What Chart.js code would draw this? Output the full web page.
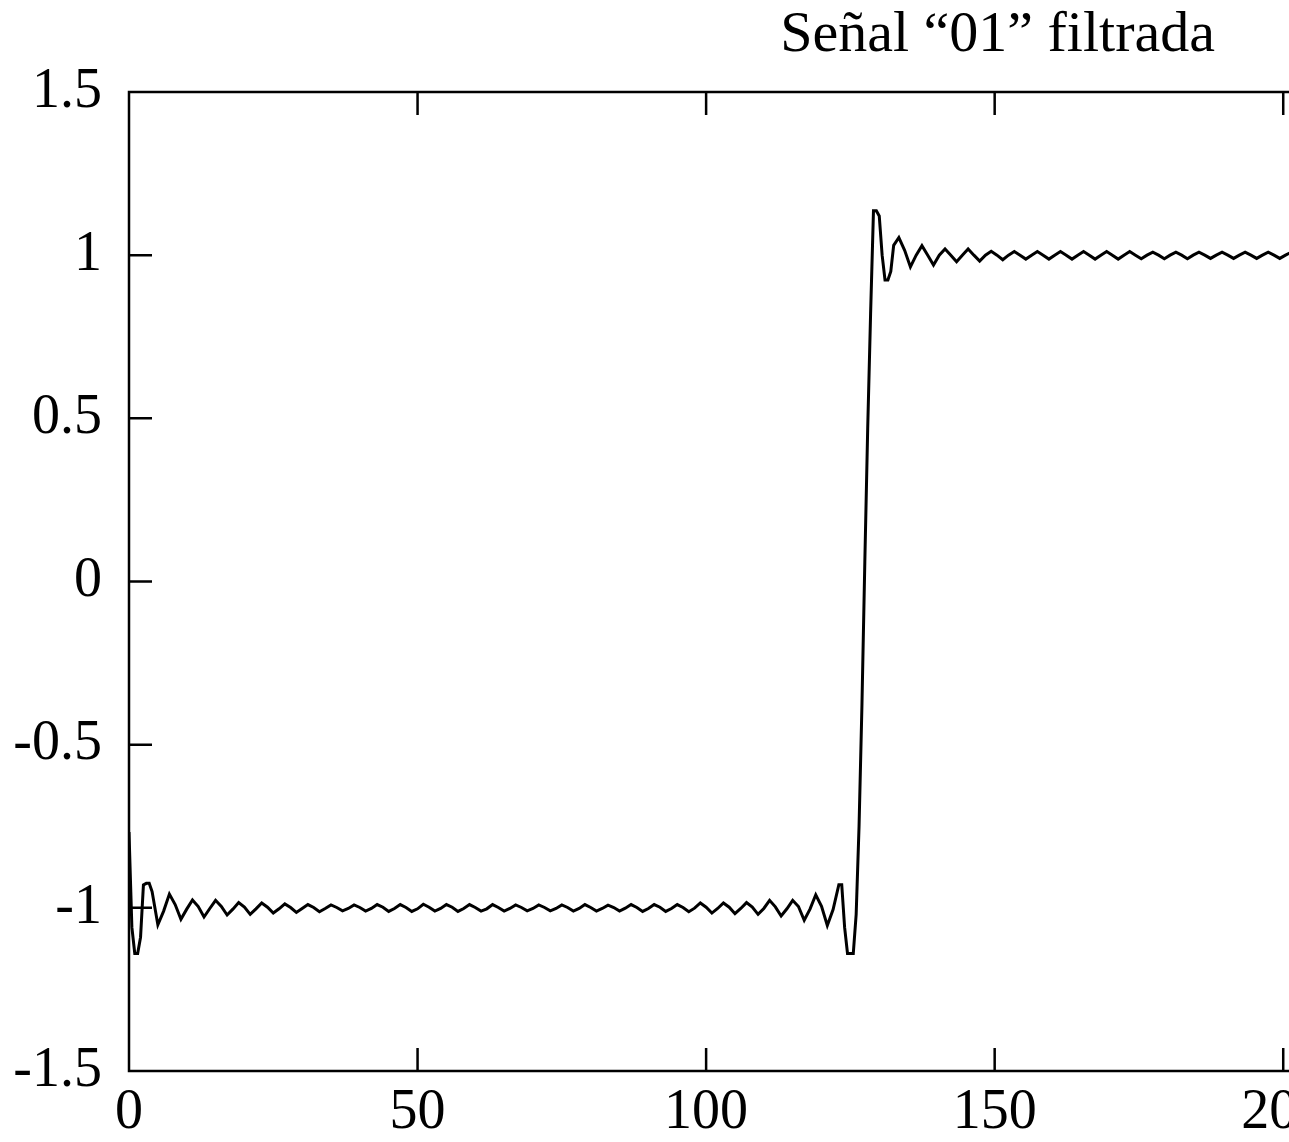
<!DOCTYPE html>
<html lang="es">
<head>
<meta charset="utf-8">
<title>Señal “01” filtrada</title>
<script src="https://cdn.jsdelivr.net/npm/chart.js@4/dist/chart.umd.min.js"></script>
<style>
  html, body { margin: 0; padding: 0; background: #fff; overflow: hidden; }
  canvas { display: block; }
</style>
</head>
<body>
<canvas id="grafico" width="1289" height="1142"></canvas>
<script>
// Señal "01" filtrada: nivel -1, subida en ~127, nivel +1
const titulo = 'Señal “01” filtrada';

// tramo en -1 (arranque + oscilación)
const xBajo = [0, 0.5, 1, 1.5, 2, 2.5, 3, 3.5, 4,
  5, 6, 7, 8, 9, 10, 11, 12, 13, 14,
  15, 16, 17, 18, 19, 20, 21, 22, 23, 24,
  25, 26, 27, 28, 29, 30, 31, 32, 33, 34,
  35, 36, 37, 38, 39, 40, 41, 42, 43, 44,
  45, 46, 47, 48, 49, 50, 51, 52, 53, 54,
  55, 56, 57, 58, 59, 60, 61, 62, 63, 64,
  65, 66, 67, 68, 69, 70, 71, 72, 73, 74,
  75, 76, 77, 78, 79, 80, 81, 82, 83, 84,
  85, 86, 87, 88, 89, 90, 91, 92, 93, 94,
  95, 96, 97, 98, 99, 100, 101, 102, 103, 104,
  105, 106, 107, 108, 109, 110, 111, 112, 113, 114,
  115, 116, 117, 118, 119, 120, 121, 122, 123];
const yBajo = [-0.768, -1.060, -1.140, -1.140, -1.090, -0.930, -0.925, -0.925, -0.950,
  -1.052, -1.010, -0.958, -0.990, -1.035, -1.004, -0.976, -0.996, -1.028, -1.002,
  -0.977, -0.996, -1.022, -1.004, -0.984, -0.998, -1.020, -1.003, -0.985, -0.998,
  -1.016, -1.003, -0.988, -0.999, -1.014, -1.002, -0.990, -0.999, -1.012, -1.002,
  -0.991, -0.999, -1.009, -1.002, -0.991, -0.999, -1.010, -1.002, -0.990, -0.998,
  -1.011, -1.002, -0.990, -0.999, -1.011, -1.003, -0.989, -0.998, -1.010, -1.002,
  -0.990, -0.998, -1.011, -1.002, -0.990, -0.999, -1.010, -1.003, -0.990, -0.999,
  -1.010, -1.002, -0.991, -0.999, -1.009, -1.002, -0.991, -0.999, -1.009, -1.002,
  -0.991, -0.999, -1.010, -1.002, -0.990, -0.999, -1.010, -1.002, -0.992, -0.999,
  -1.010, -1.001, -0.990, -0.999, -1.011, -1.002, -0.990, -0.998, -1.011, -1.002,
  -0.990, -0.999, -1.012, -1.001, -0.985, -0.998, -1.016, -1.002, -0.985, -0.998,
  -1.018, -1.002, -0.984, -0.998, -1.020, -1.002, -0.977, -0.997, -1.025, -1.003,
  -0.977, -0.996, -1.038, -1.004, -0.960, -0.995, -1.054, -1.005, -0.929];

// subida
const xSubida = [123.5, 124, 124.5, 125, 125.5, 126, 126.5, 127, 127.5, 128,
  128.5, 129, 129.5, 130, 130.5, 131, 131.5, 132, 132.5];
const ySubida = [-0.929, -1.060, -1.140, -1.140, -1.140, -1.020, -0.750, -0.380, 0.060, 0.470,
  0.820, 1.136, 1.136, 1.120, 1.000, 0.924, 0.924, 0.950, 1.030];

// tramo en +1
const xAlto = [133.4, 134.4, 135.4, 136.4, 137.4, 138.4, 139.4, 140.4, 141.4, 142.4,
  143.4, 144.4, 145.4, 146.4, 147.4, 148.4, 149.4, 150.4, 151.4, 152.4,
  153.4, 154.4, 155.4, 156.4, 157.4, 158.4, 159.4, 160.4, 161.4, 162.4,
  163.4, 164.4, 165.4, 166.4, 167.4, 168.4, 169.4, 170.4, 171.4, 172.4,
  173.4, 174.4, 175.4, 176.4, 177.4, 178.4, 179.4, 180.4, 181.4, 182.4,
  183.4, 184.4, 185.4, 186.4, 187.4, 188.4, 189.4, 190.4, 191.4, 192.4,
  193.4, 194.4, 195.4, 196.4, 197.4, 198.4, 199.4, 200.4, 201.4];
const yAlto = [1.054, 1.015, 0.964, 1.000, 1.029, 1.000, 0.970, 1.000, 1.019, 1.000,
  0.980, 1.000, 1.019, 1.000, 0.982, 1.000, 1.012, 1.000, 0.986, 1.000,
  1.011, 1.000, 0.988, 1.000, 1.011, 1.000, 0.988, 1.000, 1.011, 1.000,
  0.988, 1.000, 1.011, 1.000, 0.988, 1.000, 1.011, 1.000, 0.988, 1.000,
  1.011, 1.000, 0.989, 1.000, 1.009, 1.000, 0.989, 1.000, 1.009, 1.000,
  0.989, 1.000, 1.009, 1.000, 0.990, 1.000, 1.009, 1.000, 0.990, 1.000,
  1.009, 1.000, 0.990, 1.000, 1.009, 1.000, 0.990, 1.000, 1.009];

// ejes
const xTicks = [0, 50, 100, 150, 200];
const yTicks = [-1.5, -1, -0.5, 0, 0.5, 1, 1.5];

const xs = xBajo.concat(xSubida, xAlto);
const ys = yBajo.concat(ySubida, yAlto);
const puntos = xs.map((x, i) => ({ x: x, y: ys[i] }));

const FUENTE = '"Liberation Serif", "DejaVu Serif", serif';
const LARGO_TICK = 23;

// marco (izq, arriba, abajo), ticks hacia dentro y título
const marco = {
  id: 'marco',
  afterDraw(chart) {
    const { ctx, chartArea: a, scales } = chart;
    ctx.save();
    ctx.strokeStyle = '#000';
    ctx.lineWidth = 2.5;
    ctx.beginPath();
    ctx.moveTo(a.right + 2, a.top);
    ctx.lineTo(a.left, a.top);
    ctx.lineTo(a.left, a.bottom);
    ctx.lineTo(a.right + 2, a.bottom);
    scales.x.ticks.forEach(t => {
      const px = scales.x.getPixelForValue(t.value);
      ctx.moveTo(px, a.bottom); ctx.lineTo(px, a.bottom - LARGO_TICK);
      ctx.moveTo(px, a.top);    ctx.lineTo(px, a.top + LARGO_TICK);
    });
    scales.y.ticks.forEach(t => {
      const py = scales.y.getPixelForValue(t.value);
      ctx.moveTo(a.left, py); ctx.lineTo(a.left + LARGO_TICK, py);
    });
    ctx.stroke();

    ctx.fillStyle = '#000';
    ctx.font = '58px ' + FUENTE;
    ctx.textAlign = 'right';
    ctx.textBaseline = 'alphabetic';
    ctx.fillText(titulo, a.right - 74, 51);
    ctx.restore();
  }
};

new Chart(document.getElementById('grafico'), {
  type: 'line',
  data: {
    datasets: [{
      label: titulo,
      data: puntos,
      borderColor: '#000',
      borderWidth: 3,
      pointRadius: 0,
      tension: 0,
      fill: false
    }]
  },
  options: {
    responsive: false,
    animation: false,
    layout: { padding: { top: 92, right: 0, left: 0, bottom: 0 } },
    plugins: {
      legend: { display: false },
      title: { display: false },
      tooltip: { enabled: false }
    },
    scales: {
      x: {
        type: 'linear',
        min: 0,
        max: 201,
        grid: { display: false, drawTicks: false },
        border: { display: false },
        afterBuildTicks: s => { s.ticks = xTicks.map(v => ({ value: v })); },
        afterFit: s => { s.height = 71; s.paddingLeft = 0; s.paddingRight = 0; },
        ticks: {
          padding: 9,
          maxRotation: 0,
          color: '#000',
          font: { family: FUENTE, size: 56 },
          callback: v => String(v)
        }
      },
      y: {
        min: -1.5,
        max: 1.5,
        grid: { display: false, drawTicks: false },
        border: { display: false },
        afterBuildTicks: s => { s.ticks = yTicks.map(v => ({ value: v })); },
        afterFit: s => { s.width = 129; s.paddingTop = 0; s.paddingBottom = 0; },
        ticks: {
          padding: 27,
          color: '#000',
          font: { family: FUENTE, size: 56 },
          callback: v => String(v)
        }
      }
    }
  },
  plugins: [marco]
});
</script>
</body>
</html>
